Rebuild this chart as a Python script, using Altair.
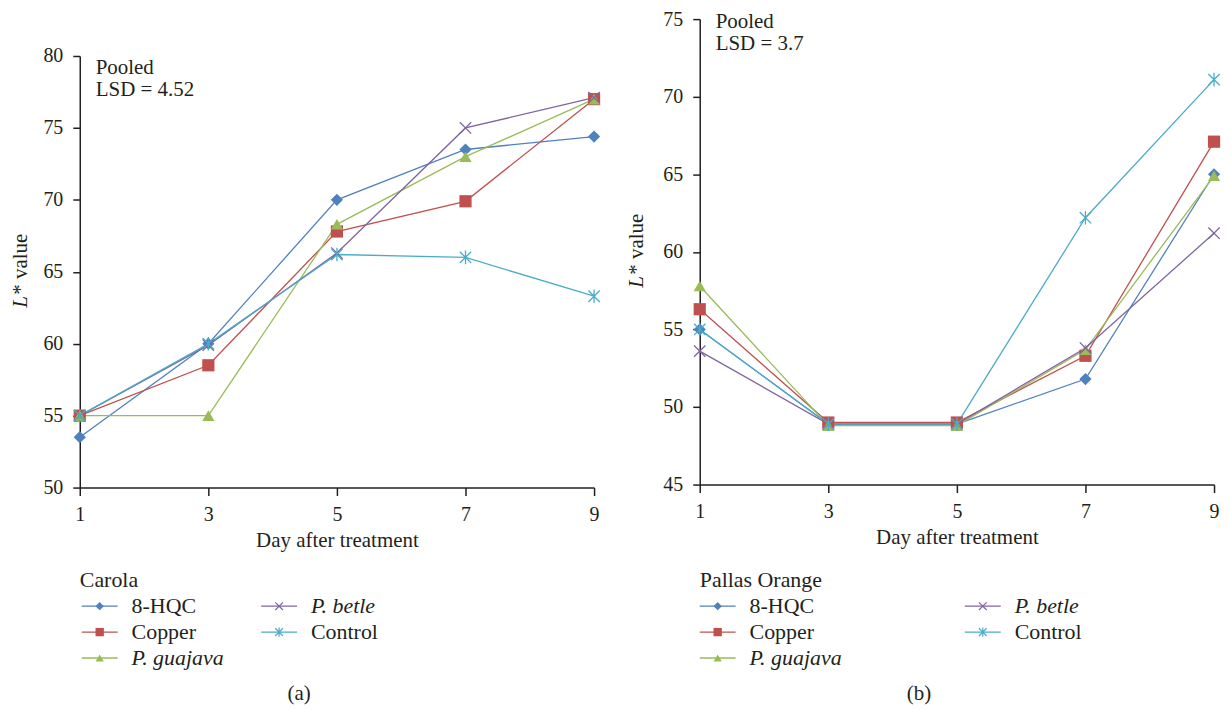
import altair as alt
import pandas as pd

# ---------------- data ----------------
days = [1, 3, 5, 7, 9]
series_names = ["8-HQC", "Copper", "P. guajava", "P. betle", "Control"]
italic_names = ["P. guajava", "P. betle"]
filled_names = ["8-HQC", "Copper", "P. guajava"]
colors = ["#4F81BD", "#C0504D", "#9BBB59", "#8064A2", "#4BACC6"]
shapes = ["diamond", "square", "triangle-up",
          "M-1,-1L1,1M-1,1L1,-1",
          "M-1,-1L1,1M-1,1L1,-1M0,-1.2L0,1.2"]

# Carola (a)
carola_8hqc = [53.5, 60.0, 70.0, 73.5, 74.4]
carola_copper = [55.0, 58.5, 67.8, 69.9, 77.0]
carola_guajava = [55.0, 55.0, 68.3, 73.0, 77.0]
carola_betle = [55.0, 59.9, 66.3, 75.0, 77.1]
carola_control = [55.0, 60.0, 66.2, 66.0, 63.3]

# Pallas Orange (b)
pallas_8hqc = [55.0, 48.9, 48.9, 51.8, 65.0]
pallas_copper = [56.3, 49.0, 49.0, 53.3, 67.1]
pallas_guajava = [57.8, 48.8, 48.8, 53.7, 64.9]
pallas_betle = [53.6, 48.9, 48.9, 53.8, 61.2]
pallas_control = [55.0, 48.9, 48.9, 62.2, 71.1]

FONT = "Liberation Serif"
TC = "#231f20"
AX = "#231f20"
PLOT_W = 516
FS = 21

color_scale = alt.Scale(domain=series_names, range=colors)
shape_scale = alt.Scale(domain=series_names, range=shapes)


def long_df(vals):
    rows = []
    for s, ys in zip(series_names, vals):
        for d, v in zip(days, ys):
            rows.append({"series": s, "day": d, "value": v})
    return pd.DataFrame(rows)


def plot_panel(vals, ymin, ymax, height, ytop, lsd, ann_x, ann_y, ytitle_x):
    df = long_df(vals)
    x = alt.X("day:Q", scale=alt.Scale(domain=[1, 9], nice=False, zero=False),
              axis=alt.Axis(values=days, title="Day after treatment", tickSize=8,
                            labelFlush=False, labelPadding=9, titlePadding=5,
                            format="d"))
    y = alt.Y("value:Q",
              scale=alt.Scale(domain=[ymin, ymax], range=[height, ytop], nice=False, zero=False),
              axis=alt.Axis(values=list(range(ymin, ymax + 1, 5)), title=None,
                            labelFlush=False, labelPadding=10, tickSize=7))
    base = alt.Chart(df)
    col = alt.Color("series:N", scale=color_scale, legend=None)
    shp = alt.Shape("series:N", scale=shape_scale, legend=None)
    lines = base.mark_line(strokeWidth=1.3).encode(x=x, y=y, color=col, detail="series:N")
    pts_f = base.transform_filter(
        alt.FieldOneOfPredicate(field="series", oneOf=filled_names)
    ).mark_point(filled=True, size=150, opacity=1).encode(x=x, y=y, color=col, shape=shp)
    pts_s = base.transform_filter(
        alt.FieldOneOfPredicate(field="series", oneOf=[s for s in series_names if s not in filled_names])
    ).mark_point(filled=False, size=130, strokeWidth=1.3, opacity=1).encode(x=x, y=y, color=col, shape=shp)

    one = alt.Chart(pd.DataFrame({"k": [0]}))
    ann = one.mark_text(align="left", baseline="top", font=FONT, fontSize=FS,
                        lineHeight=22, color=TC).encode(
        x=alt.value(ann_x), y=alt.value(ann_y), text=alt.value(["Pooled", lsd]))
    mid = (height + ytop) / 2
    yt_l = one.mark_text(align="left", baseline="middle", angle=270, font=FONT,
                         fontSize=FS, fontStyle="italic", color=TC).encode(
        x=alt.value(ytitle_x), y=alt.value(mid + 36), text=alt.value("L"))
    yt_r = one.mark_text(align="left", baseline="middle", angle=270, font=FONT,
                         fontSize=FS, color=TC).encode(
        x=alt.value(ytitle_x), y=alt.value(mid + 23), text=alt.value("* value"))
    return alt.layer(lines, pts_f, pts_s, ann, yt_l, yt_r).properties(width=PLOT_W, height=height)


def legend_panel(title, caption, x0, x1):
    n = len(series_names)
    ldf = pd.DataFrame({
        "series": series_names,
        "col": [i // 3 for i in range(n)],
        "row": [i % 3 + 1 for i in range(n)],
    })
    x = alt.X("col:Q", scale=alt.Scale(domain=[0, 1], range=[x0, x1]), axis=None)
    y = alt.Y("row:Q", scale=alt.Scale(domain=[0, 3], range=[0, 78]), axis=None)
    col = alt.Color("series:N", scale=color_scale, legend=None)
    shp = alt.Shape("series:N", scale=shape_scale, legend=None)
    b = alt.Chart(ldf)
    sw = b.mark_point(shape="stroke", size=36 * 36, strokeWidth=1.3, filled=False, opacity=1).encode(
        x=x, y=y, color=col)
    mf = b.transform_filter(alt.FieldOneOfPredicate(field="series", oneOf=filled_names)).mark_point(
        filled=True, size=70, opacity=1).encode(x=x, y=y, color=col, shape=shp)
    ms = b.transform_filter(alt.FieldOneOfPredicate(
        field="series", oneOf=[s for s in series_names if s not in filled_names])).mark_point(
        filled=False, size=60, strokeWidth=1.2, opacity=1).encode(x=x, y=y, color=col, shape=shp)
    tn = b.transform_filter(alt.FieldOneOfPredicate(
        field="series", oneOf=[s for s in series_names if s not in italic_names])).mark_text(
        align="left", baseline="middle", dx=32, font=FONT, fontSize=FS + 1, color=TC).encode(
        x=x, y=y, text="series:N")
    ti = b.transform_filter(alt.FieldOneOfPredicate(field="series", oneOf=italic_names)).mark_text(
        align="left", baseline="middle", dx=32, font=FONT, fontSize=FS + 1, fontStyle="italic",
        color=TC).encode(x=x, y=y, text="series:N")
    one = alt.Chart(pd.DataFrame({"k": [0]}))
    tt = one.mark_text(align="left", baseline="middle", font=FONT, fontSize=FS + 1, color=TC).encode(
        x=alt.value(0), y=alt.value(0), text=alt.value(title))
    cap = one.mark_text(align="center", baseline="middle", font=FONT, fontSize=FS, color=TC).encode(
        x=alt.value(220), y=alt.value(114), text=alt.value(caption))
    return alt.layer(sw, mf, ms, tn, ti, tt, cap).properties(width=PLOT_W, height=100)


plot_a = plot_panel([carola_8hqc, carola_copper, carola_guajava, carola_betle, carola_control],
                    50, 80, 470, 37, "LSD = 4.52", 16, 38, -59)
plot_b = plot_panel([pallas_8hqc, pallas_copper, pallas_guajava, pallas_betle, pallas_control],
                    45, 75, 467, 0, "LSD = 3.7", 16, -8, -63)
leg_a = legend_panel("Carola", "(a)", 20, 200)
leg_b = legend_panel("Pallas Orange", "(b)", 18, 284)

chart = alt.concat(plot_a, plot_b, leg_a, leg_b, columns=2, bounds="flush",
                   spacing={"row": 93, "column": 106}).resolve_scale(
    x="independent", y="independent"
).properties(
    padding={"left": 2, "top": 0, "right": 0, "bottom": 0}
).configure_view(stroke=None).configure_axis(
    domainColor=AX, domainWidth=1.5, tickColor=AX, tickWidth=1.5, grid=False,
    labelFont=FONT, labelFontSize=20, labelColor=TC,
    titleFont=FONT, titleFontSize=FS, titleFontWeight="normal", titleColor=TC,
)

chart.save("out.html", embed_options={"renderer": "svg", "actions": False})
